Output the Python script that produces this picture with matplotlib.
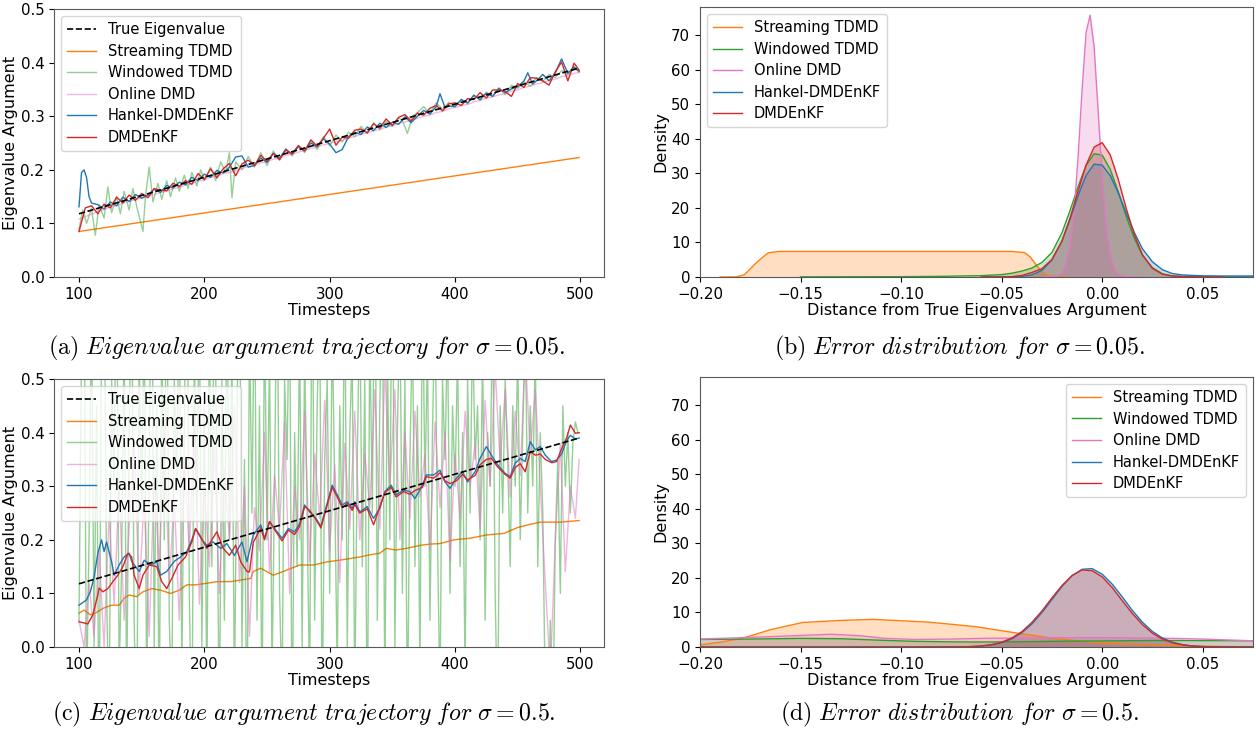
import numpy as np
import matplotlib
matplotlib.use("Agg")
import matplotlib.pyplot as plt

plt.rcParams["font.family"] = "DejaVu Sans"
plt.rcParams["mathtext.fontset"] = "cm"

C_STREAM, C_WIN, C_ONLINE, C_HANKEL, C_ENKF = "#ff7f0e", "#2ca02c", "#e377c2", "#1f77b4", "#d62728"

# ── sigma = 0.05 trajectories ─────────────────────────────────────────────
true_t = [100, 499]
true_arg = [0.118, 0.390]

stream_a_t = [100, 499]
stream_a = [0.085, 0.223]

green_a_t = [100, 103, 106, 110, 113, 116, 120, 123, 126, 130,
             133, 136, 140, 143, 146, 151, 153, 156, 159, 163,
             166, 170, 173, 177, 180, 184, 187, 190, 194, 197,
             200, 205, 209, 213, 217, 220, 222, 225, 230, 235,
             240, 245, 250, 255, 260, 265, 270, 275, 280, 285,
             290, 295, 300, 305, 310, 315, 320, 325, 330, 335,
             340, 345, 350, 355, 358, 362, 366, 370, 375, 380,
             385, 390, 395, 400, 405, 410, 415, 420, 425, 430,
             435, 440, 445, 450, 455, 460, 465, 470, 475, 480,
             485, 490, 495, 499]
green_a = [0.090, 0.125, 0.100, 0.128, 0.078, 0.135, 0.110, 0.168, 0.120, 0.150,
           0.118, 0.160, 0.125, 0.165, 0.132, 0.085, 0.150, 0.205, 0.140, 0.175,
           0.145, 0.180, 0.150, 0.185, 0.160, 0.190, 0.165, 0.195, 0.170, 0.200,
           0.180, 0.205, 0.180, 0.215, 0.195, 0.232, 0.148, 0.215, 0.200, 0.225,
           0.205, 0.232, 0.208, 0.235, 0.218, 0.240, 0.226, 0.246, 0.232, 0.255,
           0.238, 0.262, 0.245, 0.265, 0.252, 0.270, 0.262, 0.281, 0.268, 0.288,
           0.275, 0.290, 0.281, 0.297, 0.292, 0.268, 0.300, 0.307, 0.318, 0.305,
           0.325, 0.313, 0.326, 0.318, 0.332, 0.323, 0.340, 0.330, 0.345, 0.338,
           0.353, 0.340, 0.358, 0.352, 0.364, 0.356, 0.372, 0.365, 0.378, 0.372,
           0.385, 0.378, 0.390, 0.382]

grid5_t = list(range(100, 500, 5)) + [499]
pink_a = [0.108, 0.113, 0.117, 0.123, 0.126, 0.131, 0.133, 0.138, 0.141, 0.145,
          0.147, 0.151, 0.154, 0.158, 0.160, 0.165, 0.167, 0.172, 0.174, 0.179,
          0.181, 0.186, 0.188, 0.193, 0.195, 0.199, 0.202, 0.207, 0.209, 0.213,
          0.215, 0.220, 0.222, 0.227, 0.229, 0.233, 0.236, 0.240, 0.242, 0.247,
          0.249, 0.253, 0.255, 0.260, 0.262, 0.266, 0.269, 0.273, 0.275, 0.280,
          0.282, 0.287, 0.289, 0.293, 0.296, 0.300, 0.302, 0.307, 0.309, 0.314,
          0.316, 0.320, 0.322, 0.327, 0.329, 0.334, 0.336, 0.340, 0.342, 0.347,
          0.349, 0.354, 0.356, 0.360, 0.363, 0.367, 0.369, 0.374, 0.376, 0.380,
          0.382]
red_a = [0.085, 0.129, 0.133, 0.118, 0.136, 0.129, 0.149, 0.138, 0.153, 0.143,
         0.156, 0.148, 0.165, 0.162, 0.161, 0.175, 0.169, 0.180, 0.173, 0.193,
         0.182, 0.202, 0.185, 0.202, 0.212, 0.189, 0.211, 0.218, 0.208, 0.227,
         0.216, 0.230, 0.219, 0.237, 0.230, 0.245, 0.235, 0.256, 0.244, 0.259,
         0.276, 0.246, 0.261, 0.259, 0.274, 0.276, 0.269, 0.286, 0.278, 0.295,
         0.283, 0.298, 0.303, 0.291, 0.306, 0.302, 0.315, 0.320, 0.310, 0.323,
         0.325, 0.320, 0.333, 0.331, 0.344, 0.334, 0.349, 0.349, 0.346, 0.337,
         0.361, 0.354, 0.372, 0.371, 0.366, 0.358, 0.383, 0.401, 0.366, 0.399,
         0.386]

blue_a_t = [100, 102, 104, 106, 108, 110, 115, 120, 125, 130,
            135, 140, 145, 150, 155, 160, 165, 170, 175, 180,
            185, 190, 195, 200, 205, 210, 215, 220, 225, 230,
            235, 240, 245, 250, 255, 260, 265, 270, 275, 280,
            285, 290, 295, 300, 305, 310, 315, 320, 325, 330,
            335, 340, 345, 350, 355, 360, 365, 370, 375, 380,
            385, 388, 392, 395, 400, 405, 410, 415, 420, 425,
            430, 435, 440, 445, 450, 455, 458, 462, 465, 470,
            475, 480, 485, 490, 495, 499]
blue_a = [0.131, 0.195, 0.200, 0.186, 0.150, 0.138, 0.135, 0.127, 0.140, 0.133,
          0.149, 0.141, 0.154, 0.147, 0.153, 0.164, 0.158, 0.171, 0.166, 0.177,
          0.172, 0.186, 0.180, 0.192, 0.186, 0.199, 0.194, 0.205, 0.224, 0.226,
          0.205, 0.208, 0.222, 0.214, 0.231, 0.222, 0.238, 0.229, 0.243, 0.236,
          0.250, 0.243, 0.258, 0.248, 0.232, 0.238, 0.262, 0.270, 0.266, 0.280,
          0.273, 0.287, 0.279, 0.289, 0.285, 0.299, 0.288, 0.300, 0.311, 0.304,
          0.318, 0.342, 0.316, 0.319, 0.318, 0.331, 0.325, 0.339, 0.331, 0.343,
          0.337, 0.352, 0.344, 0.351, 0.355, 0.366, 0.381, 0.360, 0.366, 0.378,
          0.366, 0.381, 0.407, 0.380, 0.392, 0.384]

# ── sigma = 0.5 trajectories ──────────────────────────────────────────────
stream_c_t = [100, 104, 109, 113, 119, 126, 132, 136, 140, 146,
              151, 158, 165, 173, 180, 186, 193, 202, 210, 221,
              229, 237, 239, 245, 255, 263, 276, 287, 298, 308,
              324, 332, 340, 345, 353, 361, 373, 380, 388, 399,
              412, 425, 439, 450, 460, 468, 484, 499]
stream_c = [0.063, 0.069, 0.060, 0.063, 0.072, 0.078, 0.078, 0.091, 0.097, 0.094,
            0.103, 0.109, 0.106, 0.100, 0.106, 0.116, 0.116, 0.119, 0.122, 0.122,
            0.125, 0.128, 0.141, 0.147, 0.134, 0.141, 0.153, 0.153, 0.159, 0.162,
            0.168, 0.172, 0.175, 0.184, 0.181, 0.184, 0.190, 0.192, 0.193, 0.200,
            0.203, 0.209, 0.212, 0.223, 0.229, 0.233, 0.233, 0.236]

grid2_t = list(range(100, 500, 2)) + [499]
green_c = [0.05, 0.55, 0.70, -0.10, 0.20, 0.65, 0.00, 0.45, -0.20, 0.60,
           0.75, 0.10, -0.15, 0.50, 0.30, 0.80, -0.05, 0.15, 0.60, -0.10,
           0.40, 0.70, 0.05, -0.20, 0.55, 0.25, 0.65, -0.10, 0.35, 0.80,
           0.00, 0.45, -0.15, 0.60, 0.20, 0.75, 0.05, -0.10, 0.50, 0.30,
           0.70, -0.05, 0.40, 0.85, 0.10, -0.20, 0.55, 0.25, 0.65, 0.00,
           0.45, -0.10, 0.60, 0.15, 0.75, 0.30, -0.15, 0.50, 0.05, 0.70,
           0.20, 0.55, -0.10, 0.40, 0.80, 0.00, 0.35, -0.20, 0.60, 0.25,
           0.70, 0.05, 0.45, -0.15, 0.65, 0.20, 0.55, -0.05, 0.30, 0.75,
           0.10, -0.10, 0.50, 0.35, 0.70, -0.20, 0.40, 0.15, 0.60, 0.00,
           0.55, 0.25, -0.10, 0.80, 0.05, 0.45, 0.65, -0.15, 0.35, 0.50,
           0.10, 0.60, 0.30, -0.05, 0.45, 0.20, 0.70, 0.00, 0.40, 0.55,
           -0.10, 0.35, 0.65, 0.15, 0.50, -0.20, 0.60, 0.25, 0.80, 0.05,
           0.45, 0.70, -0.10, 0.55, 0.20, 0.85, 0.00, 0.40, 0.65, 0.10,
           0.50, -0.15, 0.35, 0.60, 0.15, 0.45, -0.05, 0.70, 0.30, 0.55,
           0.05, 0.40, 0.65, 0.20, -0.10, 0.50, 0.35, 0.60, 0.10, 0.45,
           0.30, 0.55, 0.15, 0.40, -0.05, 0.50, 0.25, 0.60, 0.35, 0.45,
           0.20, 0.55, 0.05, 0.40, 0.30, 0.65, 0.10, -0.15, 0.45, 0.25,
           0.50, 0.35, 0.15, 0.45, 0.30, 0.55, 0.20, 0.40, 0.60, 0.25,
           0.45, 0.30, 0.55, 0.15, 0.40, 0.25, -0.10, -0.20, 0.05, -0.15,
           0.20, 0.35, 0.10, 0.45, 0.30, 0.40, 0.25, 0.38, 0.42, 0.40,
           0.40]

grid4_t = list(range(100, 500, 4)) + [499]
pink_c = [0.05, 0.00, 0.12, 0.02, 0.18, 0.00, 0.25, 0.08, 0.30, 0.05,
          0.22, 0.38, 0.10, 0.28, 0.02, 0.32, 0.15, 0.40, 0.12, 0.28,
          0.05, 0.35, 0.18, 0.42, 0.08, 0.30, 0.15, 0.38, 0.10, 0.33,
          0.20, 0.45, 0.12, 0.30, 0.02, 0.26, 0.18, 0.40, 0.14, 0.32,
          0.22, 0.42, 0.10, 0.30, 0.20, 0.44, 0.16, 0.36, 0.24, 0.46,
          0.18, 0.34, 0.12, 0.38, 0.22, 0.44, 0.20, 0.36, 0.26, 0.48,
          0.22, 0.52, 0.30, 0.48, 0.20, 0.40, 0.24, 0.44, 0.28, 0.36,
          0.18, 0.42, 0.26, 0.40, 0.16, 0.36, 0.24, 0.44, 0.30, 0.38,
          0.22, 0.46, 0.30, 0.52, 0.34, 0.48, 0.28, 0.44, 0.32, 0.55,
          0.36, 0.48, 0.30, 0.12, -0.05, 0.20, 0.38, 0.14, 0.30, 0.24,
          0.35]

blue_c_t = [100, 103, 106, 109, 112, 115, 118, 120, 122, 126,
            128, 132, 136, 140, 142, 148, 152, 157, 162, 165,
            170, 176, 181, 186, 190, 193, 198, 202, 207, 213,
            218, 224, 230, 234, 239, 245, 248, 252, 258, 262,
            267, 272, 276, 280, 284, 289, 293, 296, 302, 306,
            310, 314, 318, 320, 324, 330, 335, 340, 344, 349,
            353, 359, 364, 368, 374, 377, 383, 388, 392, 396,
            401, 406, 410, 416, 420, 425, 429, 434, 440, 444,
            448, 452, 456, 460, 464, 468, 472, 477, 481, 485,
            489, 492, 496, 499]
blue_c = [0.078, 0.083, 0.088, 0.103, 0.130, 0.175, 0.200, 0.178, 0.196, 0.159,
          0.134, 0.153, 0.168, 0.175, 0.160, 0.141, 0.162, 0.153, 0.159, 0.134,
          0.141, 0.160, 0.168, 0.178, 0.200, 0.221, 0.200, 0.190, 0.196, 0.184,
          0.193, 0.171, 0.196, 0.159, 0.209, 0.228, 0.203, 0.234, 0.215, 0.203,
          0.221, 0.215, 0.230, 0.265, 0.252, 0.240, 0.225, 0.252, 0.302, 0.284,
          0.265, 0.271, 0.259, 0.271, 0.252, 0.262, 0.240, 0.259, 0.290, 0.302,
          0.284, 0.293, 0.290, 0.277, 0.302, 0.321, 0.321, 0.330, 0.308, 0.296,
          0.315, 0.327, 0.308, 0.327, 0.352, 0.374, 0.358, 0.340, 0.324, 0.318,
          0.343, 0.352, 0.346, 0.383, 0.368, 0.374, 0.358, 0.346, 0.349, 0.360,
          0.385, 0.395, 0.388, 0.390]

red_c_t = [100, 104, 107, 111, 115, 116, 119, 123, 127, 131,
           135, 139, 142, 144, 148, 151, 156, 162, 166, 170,
           174, 179, 185, 190, 193, 197, 202, 206, 210, 215,
           220, 225, 229, 234, 236, 239, 245, 248, 252, 258,
           262, 267, 272, 276, 280, 284, 289, 293, 296, 302,
           306, 310, 314, 318, 320, 324, 330, 335, 340, 344,
           349, 353, 359, 364, 368, 374, 377, 383, 388, 392,
           396, 401, 406, 410, 416, 420, 425, 429, 434, 440,
           444, 448, 452, 456, 460, 464, 468, 472, 477, 481,
           485, 489, 492, 496, 499]
red_c = [0.047, 0.045, 0.043, 0.060, 0.097, 0.110, 0.103, 0.109, 0.122, 0.134,
         0.150, 0.175, 0.168, 0.134, 0.109, 0.134, 0.153, 0.150, 0.122, 0.109,
         0.128, 0.153, 0.168, 0.196, 0.221, 0.206, 0.184, 0.200, 0.215, 0.184,
         0.171, 0.190, 0.159, 0.141, 0.140, 0.195, 0.222, 0.200, 0.234, 0.212,
         0.198, 0.218, 0.210, 0.225, 0.262, 0.255, 0.238, 0.222, 0.248, 0.298,
         0.280, 0.260, 0.268, 0.255, 0.266, 0.250, 0.258, 0.228, 0.262, 0.288,
         0.298, 0.280, 0.290, 0.285, 0.292, 0.298, 0.318, 0.315, 0.325, 0.310,
         0.305, 0.310, 0.322, 0.312, 0.320, 0.340, 0.350, 0.352, 0.336, 0.322,
         0.315, 0.335, 0.342, 0.327, 0.365, 0.358, 0.360, 0.350, 0.344, 0.346,
         0.370, 0.390, 0.414, 0.399, 0.400]

# ── error densities, sigma = 0.05 ─────────────────────────────────────────
stream_b_x = [-0.190, -0.182, -0.178, -0.1766, -0.1726, -0.1687, -0.166, -0.161, -0.100,
              -0.045, -0.0387, -0.0357, -0.0327, -0.0298, -0.0268, -0.023, -0.018]
stream_b = [0.0, 0.05, 0.6, 1.4, 3.8, 5.8, 7.0, 7.4, 7.4,
            7.4, 7.1, 5.8, 3.4, 1.4, 0.4, 0.05, 0.0]
green_b_x = [-0.150, -0.100, -0.080, -0.060, -0.050, -0.045, -0.040, -0.035, -0.030, -0.025,
             -0.020, -0.016, -0.012, -0.008, -0.004, 0.000, 0.004, 0.008, 0.012, 0.016,
             0.020, 0.025, 0.030, 0.035, 0.040, 0.050, 0.075]
green_b = [0.05, 0.1, 0.2, 0.4, 0.7, 1.1, 1.7, 2.6, 4.2, 7.1,
           12.8, 19.2, 26.1, 32.3, 35.7, 35.3, 31.2, 24.7, 17.5, 11.2,
           6.3, 2.7, 0.95, 0.3, 0.15, 0.08, 0.05]
pink_b_x = [-0.030, -0.022, -0.020, -0.018, -0.016, -0.014, -0.012, -0.010, -0.008, -0.006,
            -0.004, -0.002, 0.000, 0.002, 0.004, 0.006, 0.008, 0.010, 0.014, 0.020]
pink_b = [0.0, 0.3, 1.2, 3.5, 9.0, 18.5, 34.5, 54.0, 70.8, 75.8,
          66.7, 48.0, 29.0, 14.5, 6.5, 2.5, 0.8, 0.3, 0.05, 0.0]
blue_b_x = [-0.060, -0.050, -0.040, -0.035, -0.030, -0.025, -0.020, -0.016, -0.012, -0.008,
            -0.004, 0.000, 0.004, 0.008, 0.012, 0.016, 0.020, 0.025, 0.030, 0.035,
            0.040, 0.050, 0.060, 0.075]
blue_b = [0.0, 0.01, 0.16, 0.6, 1.9, 4.9, 10.4, 16.6, 23.5, 29.4,
          32.7, 32.4, 29.4, 24.4, 18.5, 12.9, 8.2, 4.4, 2.1, 1.0,
          0.6, 0.35, 0.3, 0.3]
red_b_x = [-0.060, -0.045, -0.040, -0.035, -0.030, -0.025, -0.020, -0.016, -0.012, -0.008,
           -0.004, 0.000, 0.004, 0.008, 0.012, 0.016, 0.020, 0.025, 0.030, 0.035,
           0.040, 0.050, 0.060]
red_b = [0.0, 0.1, 0.45, 1.3, 2.4, 5.1, 10.4, 17.0, 24.8, 32.4,
         37.6, 38.9, 35.4, 28.3, 19.8, 12.2, 6.5, 2.5, 0.8, 0.3,
         0.15, 0.05, 0.0]

# ── error densities, sigma = 0.5 ──────────────────────────────────────────
stream_d_x = [-0.200, -0.190, -0.179, -0.165, -0.149, -0.130, -0.114, -0.100, -0.086,
              -0.063, -0.042, -0.024, -0.007, 0.010, 0.028, 0.046, 0.060, 0.075]
stream_d = [0.6, 1.4, 2.5, 5.0, 7.1, 7.7, 8.0, 7.6, 7.2,
            5.9, 4.0, 2.5, 1.5, 0.9, 0.6, 0.3, 0.15, 0.05]
green_d_x = [-0.200, -0.175, -0.149, -0.130, -0.112, -0.094, -0.075, -0.060, -0.040,
             -0.024, 0.000, 0.028, 0.050, 0.075]
green_d = [2.2, 2.3, 2.5, 2.4, 2.0, 1.65, 1.5, 1.45, 1.5,
           1.65, 1.75, 1.9, 1.85, 1.8]
pink_d_x = [-0.200, -0.165, -0.135, -0.121, -0.108, -0.094, -0.075, -0.060, -0.040,
            -0.024, 0.000, 0.028, 0.050, 0.075]
pink_d = [2.3, 3.0, 3.7, 3.3, 2.5, 2.2, 2.3, 2.5, 2.6,
          2.7, 2.7, 2.6, 2.3, 1.8]
peak_d_x = [-0.200, -0.100, -0.080, -0.070, -0.065, -0.060, -0.055, -0.050, -0.045, -0.040,
            -0.035, -0.030, -0.025, -0.020, -0.015, -0.010, -0.005, 0.000, 0.005, 0.010,
            0.015, 0.020, 0.025, 0.030, 0.035, 0.040, 0.045, 0.050, 0.060, 0.075]
blue_d = [0.0, 0.0, 0.01, 0.04, 0.11, 0.27, 0.6, 1.23, 2.35, 4.1,
          6.6, 9.9, 13.7, 17.5, 20.6, 22.5, 22.7, 21.1, 18.2, 14.5,
          10.6, 7.2, 4.5, 2.6, 1.4, 0.7, 0.31, 0.13, 0.02, 0.0]
red_d = [0.0, 0.0, 0.01, 0.05, 0.13, 0.31, 0.68, 1.39, 2.58, 4.4,
         7.1, 10.4, 14.2, 17.8, 20.7, 22.3, 22.1, 20.3, 17.2, 13.4,
         9.7, 6.5, 4.0, 2.3, 1.2, 0.6, 0.25, 0.1, 0.02, 0.0]

LABELS = ["Streaming TDMD", "Windowed TDMD", "Online DMD", "Hankel-DMDEnKF", "DMDEnKF"]
COLORS = [C_STREAM, C_WIN, C_ONLINE, C_HANKEL, C_ENKF]
LEG = dict(fontsize=10.5, labelspacing=0.45, borderpad=0.4, handlelength=2.0)


def plot_trajectory(ax, series):
    ax.plot(true_t, true_arg, "--", color="black", lw=1.2, label="True Eigenvalue", zorder=5)
    for (t, v, alpha), label, color in zip(series, LABELS, COLORS):
        ax.plot(t, v, color=color, lw=1.0, alpha=alpha, label=label)
    ax.set_ylim(0, 0.5)
    ax.set_xticks([100, 200, 300, 400, 500])
    ax.set_yticks([0.0, 0.1, 0.2, 0.3, 0.4, 0.5])
    ax.set_xlabel("Timesteps", fontsize=11.5, labelpad=1)
    ax.set_ylabel("Eigenvalue Argument", fontsize=11.5, labelpad=2)
    ax.legend(loc="upper left", **LEG)


def plot_density(ax, curves, loc):
    for (x, y), label, color in zip(curves, LABELS, COLORS):
        ax.fill_between(x, y, color=color, alpha=0.25, lw=0)
        ax.plot(x, y, color=color, lw=1.0, label=label)
    ax.set_xlim(-0.2, 0.075)
    ax.set_ylim(0, 78.2)
    ax.set_xticks([-0.20, -0.15, -0.10, -0.05, 0.00, 0.05])
    ax.set_yticks(range(0, 80, 10))
    ax.set_xlabel("Distance from True Eigenvalues Argument", fontsize=11.5, labelpad=1)
    ax.set_ylabel("Density", fontsize=11.5, labelpad=2)
    ax.legend(loc=loc, **LEG)


fig = plt.figure(figsize=(12.56, 7.36), dpi=100)
ax_a = fig.add_axes([0.043, 0.6236, 0.438, 0.3641])
ax_b = fig.add_axes([0.5573, 0.6236, 0.4403, 0.367])
ax_c = fig.add_axes([0.043, 0.1209, 0.438, 0.3641])
ax_d = fig.add_axes([0.5573, 0.1209, 0.4403, 0.367])

plot_trajectory(ax_a, [(stream_a_t, stream_a, 1.0), (green_a_t, green_a, 0.5),
                       (grid5_t, pink_a, 0.5), (blue_a_t, blue_a, 1.0),
                       (grid5_t, red_a, 1.0)])
plot_trajectory(ax_c, [(stream_c_t, stream_c, 1.0), (grid2_t, green_c, 0.5),
                       (grid4_t, pink_c, 0.55), (blue_c_t, blue_c, 1.0),
                       (red_c_t, red_c, 1.0)])
plot_density(ax_b, [(stream_b_x, stream_b), (green_b_x, green_b), (pink_b_x, pink_b),
                    (blue_b_x, blue_b), (red_b_x, red_b)], "upper left")
plot_density(ax_d, [(stream_d_x, stream_d), (green_d_x, green_d), (pink_d_x, pink_d),
                    (peak_d_x, blue_d), (peak_d_x, red_d)], "upper right")

for ax in (ax_a, ax_b, ax_c, ax_d):
    ax.tick_params(labelsize=10.8)
    for s in ax.spines.values():
        s.set_color("0.35")

captions = [
    (0.2436, 0.527, r"$\mathrm{(a)}\ \mathit{Eigenvalue\ argument\ trajectory\ for}\ \sigma = 0.05.$"),
    (0.764, 0.527, r"$\mathrm{(b)}\ \mathit{Error\ distribution\ for}\ \sigma = 0.05.$"),
    (0.2420, 0.029, r"$\mathrm{(c)}\ \mathit{Eigenvalue\ argument\ trajectory\ for}\ \sigma = 0.5.$"),
    (0.764, 0.029, r"$\mathrm{(d)}\ \mathit{Error\ distribution\ for}\ \sigma = 0.5.$"),
]
for x, y, txt in captions:
    fig.text(x, y, txt, ha="center", va="center", fontsize=17.2)

fig.savefig("out.png", dpi=100)
